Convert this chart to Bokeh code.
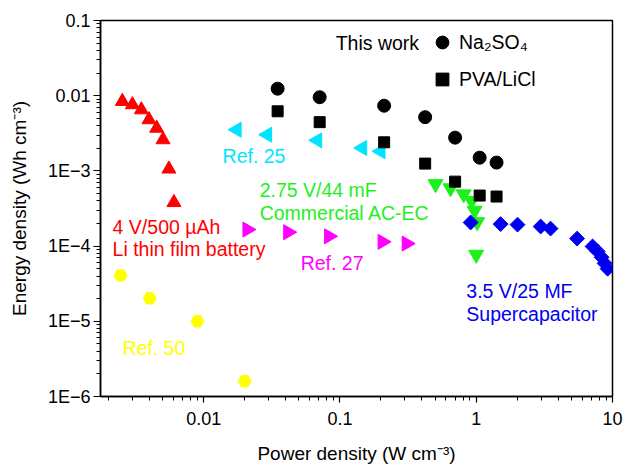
import math
from bokeh.plotting import figure
from bokeh.models import (FixedTicker, Label, Legend, LegendItem)
from bokeh.embed import file_html
from bokeh.resources import INLINE

# ---------------- data ----------------
red_x = [0.00253, 0.0030, 0.00349, 0.00397, 0.00452, 0.00503, 0.00556, 0.00605]
red_y = [0.0084, 0.0076, 0.0065, 0.0048, 0.0037, 0.0026, 0.00106, 0.00038]

cyan_x = [0.0175, 0.0293, 0.0683, 0.146, 0.199]
cyan_y = [0.00353, 0.00303, 0.00255, 0.00202, 0.00182]

na_x = [0.0349, 0.071, 0.211, 0.422, 0.70, 1.06, 1.41]
na_y = [0.0124, 0.00955, 0.00736, 0.00518, 0.00277, 0.00150, 0.00129]

pva_x = [0.0349, 0.071, 0.211, 0.422, 0.70, 1.06, 1.41]
pva_y = [0.0062, 0.00445, 0.0024, 0.00125, 0.00072, 0.00047, 0.000456]

green_x = [0.503, 0.648, 0.809, 0.925, 0.973, 1.016, 1.0]
green_y = [6.7e-4, 5.9e-4, 4.9e-4, 4.0e-4, 2.97e-4, 2.09e-4, 7.7e-5]

blue_x = [0.91, 1.51, 2.01, 2.97, 3.51, 5.50, 7.14, 7.78, 8.32, 8.75, 9.21]
blue_y = [2.06e-4, 1.96e-4, 1.93e-4, 1.82e-4, 1.71e-4, 1.26e-4, 9.9e-5, 8.5e-5,
          7.1e-5, 5.9e-5, 5.0e-5]

magenta_x = [0.0209, 0.0416, 0.083, 0.205, 0.308]
magenta_y = [1.66e-4, 1.53e-4, 1.35e-4, 1.14e-4, 1.08e-4]

yellow_x = [0.00246, 0.00402, 0.0090, 0.0200]
yellow_y = [4.07e-5, 2.02e-5, 1.0e-5, 1.6e-6]

x_ticks = [0.01, 0.1, 1, 10]
x_tick_labels = ["0.01", "0.1", "1", "10"]
y_ticks = [1e-6, 1e-5, 1e-4, 1e-3, 0.01, 0.1]
y_tick_labels = ["1E\u22126", "1E\u22125", "1E\u22124", "1E\u22123", "0.01", "0.1"]

FONT = "Liberation Sans"
RED = "#ff0000"
CYAN = "#00e4ff"
GREEN = "#1ef01e"
MAGENTA = "#ff00ff"
BLUE = "#0000f0"
YELLOW = "#ffff00"

p = figure(width=624, height=466, x_axis_type="log", y_axis_type="log",
           x_range=(0.00175, 10), y_range=(1e-6, 0.1),
           output_backend="svg", toolbar_location=None,
           min_border_left=100, min_border_right=12, min_border_top=20,
           min_border_bottom=69)
p.background_fill_color = "white"
p.border_fill_color = "white"
p.grid.visible = False
p.outline_line_color = "black"
p.outline_line_width = 1.5

# ticks
x_minor = [k * 10.0 ** e for e in range(-3, 1) for k in range(2, 10)]
y_minor = [k * 10.0 ** e for e in range(-6, -1) for k in range(2, 10)]
p.xaxis.ticker = FixedTicker(ticks=x_ticks, minor_ticks=x_minor)
p.yaxis.ticker = FixedTicker(ticks=y_ticks, minor_ticks=y_minor)
p.xaxis.major_label_overrides = dict(zip(x_ticks, x_tick_labels))
p.yaxis.major_label_overrides = dict(zip(y_ticks, y_tick_labels))

for ax in (p.xaxis[0], p.yaxis[0]):
    ax.axis_line_width = 1.5
    ax.axis_line_color = "black"
    ax.major_tick_line_width = 1.2
    ax.minor_tick_line_width = 1.0
    ax.major_tick_in = 0
    ax.minor_tick_in = 0
    ax.major_label_text_font = FONT
    ax.major_label_text_font_size = "18px"
    ax.major_label_text_color = "black"
    ax.axis_label_text_font = FONT
    ax.axis_label_text_font_size = "19px"
    ax.axis_label_text_font_style = "normal"
    ax.axis_label_text_color = "black"

p.xaxis.major_tick_out = 6
p.xaxis.minor_tick_out = 4
p.yaxis.major_tick_out = 7
p.yaxis.minor_tick_out = 4
p.yaxis.major_label_standoff = 3
p.xaxis.major_label_standoff = 9
p.yaxis.axis_label_standoff = 15
p.xaxis.axis_label_standoff = 15
p.xaxis.axis_label = "Power density (W cm\u207b\u00b3)"
p.yaxis.axis_label = "Energy density (Wh cm\u207b\u00b3)"

# markers
p.scatter(red_x, red_y, marker="triangle", size=14, fill_color=RED, line_color=RED)
p.scatter(cyan_x, cyan_y, marker="triangle", size=15, angle=math.pi / 2,
          fill_color=CYAN, line_color=CYAN)
p.scatter(magenta_x, magenta_y, marker="triangle", size=15, angle=-math.pi / 2,
          fill_color=MAGENTA, line_color=MAGENTA)
p.scatter(green_x, green_y, marker="inverted_triangle", size=15,
          fill_color=GREEN, line_color=GREEN)
p.scatter(blue_x, blue_y, marker="square", size=10.5, angle=math.pi / 4,
          fill_color=BLUE, line_color=BLUE)
p.scatter(yellow_x, yellow_y, marker="hex", size=13, fill_color=YELLOW, line_color=YELLOW)
r_na = p.scatter(na_x, na_y, marker="circle", size=13, fill_color="black", line_color="black")
r_pva = p.scatter(pva_x, pva_y, marker="square", size=11, fill_color="black", line_color="black")

legend = Legend(items=[LegendItem(label="Na\u2082SO\u2084", renderers=[r_na]),
                       LegendItem(label="PVA/LiCl", renderers=[r_pva])],
                location=(326, 301), orientation="vertical")
legend.border_line_alpha = 0
legend.background_fill_alpha = 0
legend.padding = 0
legend.margin = 0
legend.spacing = 5
legend.glyph_width = 32
legend.glyph_height = 32
legend.label_standoff = 1
legend.label_text_font = FONT
legend.label_text_font_size = "19.5px"
legend.label_text_color = "black"
p.add_layout(legend)

# annotations
labels = [
    ("This work", 0.0930, 0.0506, "black"),
    ("Ref. 25", 0.01377, 0.001596, CYAN),
    ("2.75 V/44 mF", 0.02576, 5.65e-4, GREEN),
    ("Commercial AC-EC", 0.02576, 2.79e-4, GREEN),
    ("4 V/500 \u00b5Ah", 0.002147, 1.82e-4, RED),
    ("Li thin film battery", 0.002147, 9.02e-5, RED),
    ("Ref. 27", 0.0515, 6.05e-5, MAGENTA),
    ("3.5 V/25 MF", 0.846, 2.52e-5, BLUE),
    ("Supercapacitor", 0.846, 1.236e-5, BLUE),
    ("Ref. 50", 0.002535, 4.37e-6, YELLOW),
]
for txt, lx, ly, col in labels:
    p.add_layout(Label(x=lx, y=ly, text=txt, text_color=col, text_font=FONT,
                       text_font_size="19.5px", text_baseline="middle", text_align="left"))

open("out.html", "w").write(file_html(p, INLINE))
